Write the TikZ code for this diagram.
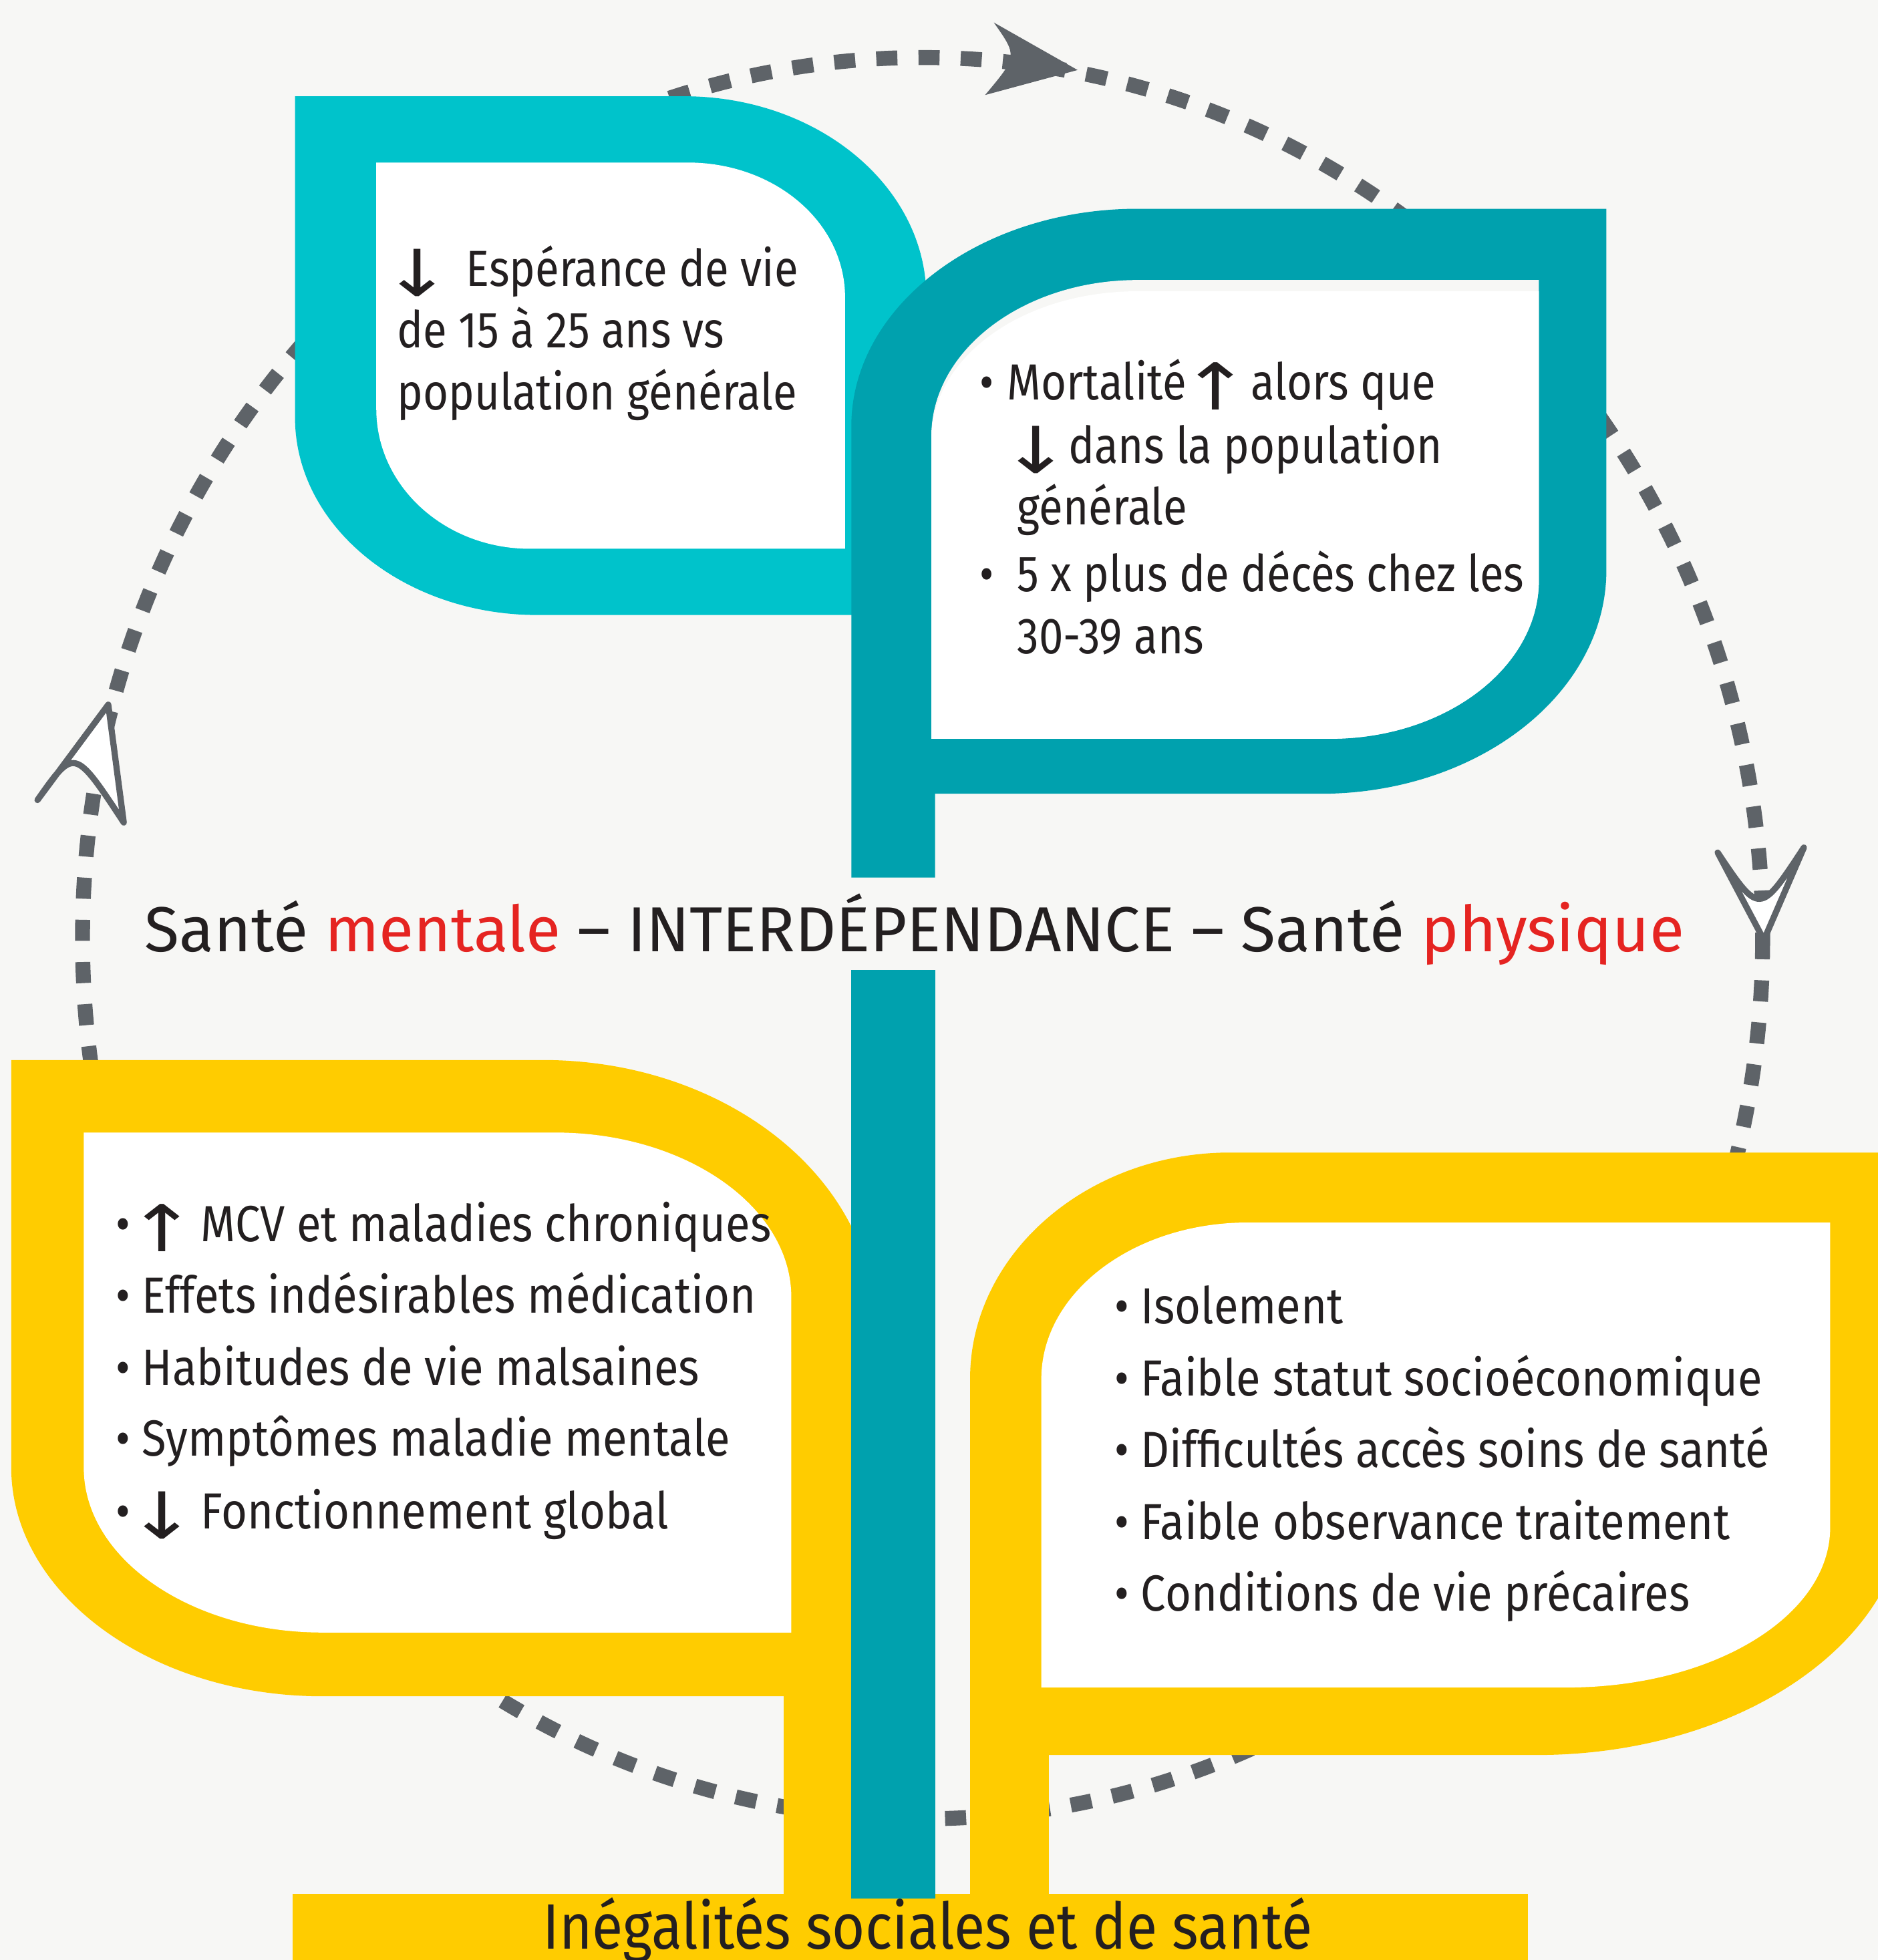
\documentclass[tikz,border=0pt]{standalone}
\usepackage{fontspec}
\setmainfont{Fira Sans}
\newfontfamily\leaffont[FakeStretch=0.86]{Fira Sans}
\newfontfamily\rootfont[FakeStretch=0.88]{Fira Sans}
\newfontfamily\arrowfont{DejaVu Sans}
\usepackage{tikz}
\usetikzlibrary{calc}

\definecolor{bgcol}{HTML}{F7F7F5}
\definecolor{ringcol}{HTML}{5E6368}
\definecolor{cyanleaf}{HTML}{00C3CB}
\definecolor{tealleaf}{HTML}{00A1AE}
\definecolor{yellowleaf}{HTML}{FFCC00}
\definecolor{inkcol}{HTML}{231F20}
\definecolor{redcol}{HTML}{E52421}

\newcommand{\arrup}{\scalebox{1.35}[1.05]{\arrowfont\fontsize{14}{14}\selectfont ↑}}
\newcommand{\arrdown}{\scalebox{1.35}[1.05]{\arrowfont\fontsize{14}{14}\selectfont ↓}}

\tikzset{
  ring/.style={ringcol, line width=3.4pt, dash pattern=on 4.8pt off 4.8pt},
  openhead/.style={draw=ringcol, fill=white, line width=1.4pt, line join=round},
  fullhead/.style={fill=ringcol},
  leaftext/.style={inkcol, anchor=base west, inner sep=0pt, font=\leaffont\fontsize{11.55}{14}\selectfont},
  roottext/.style={inkcol, anchor=base west, inner sep=0pt, font=\rootfont\fontsize{11.55}{14}\selectfont},
  arrowtext/.style={inkcol, anchor=base west, inner sep=0pt},
  titletext/.style={inkcol, anchor=base, inner sep=0pt, font=\fontsize{14.47}{18}\selectfont},
  bartext/.style={inkcol, anchor=base, inner sep=0pt, font=\rootfont\fontsize{14.6}{16}\selectfont},
}

\begin{document}
\begin{tikzpicture}[x=0.01cm, y=-0.01cm]

	\useasboundingbox (0,0) rectangle (1502,1568);
	\fill[bgcol] (0,0) rectangle (1502,1568); %background

	% cycle round the plant
	\draw[ring] (738,750.5) ellipse [x radius=672, y radius=704.5];
	\fill[fullhead] (862,56) -- (795,18) .. controls (814,45) .. (788,76) -- cycle; %top
	\draw[openhead] (1411,752) -- (1374,682) .. controls (1407.5,732) .. (1443,678) -- cycle; %right
	\draw[openhead] (86.6,563.7) -- (30,640) .. controls (59.5,598) .. (99,658) -- cycle; %left

	% yellow leaves
	\fill[yellowleaf] (9,848) -- (434,848) .. controls (581,848) and (700,943) .. (700,1060) -- (700,1515) -- (627,1515) -- (627,1357) -- (258,1357) .. controls (121,1357) and (9,1275) .. (9,1174) -- cycle;
	\fill[white] (67,906) -- (444,906) .. controls (548,906) and (633,965) .. (633,1038) -- (633,1306) -- (258,1306) .. controls (153,1306) and (67,1247) .. (67,1174) -- cycle;
	\fill[yellowleaf] (776,1515) -- (776,1103) .. controls (776,1003) and (870,922) .. (984,922) -- (1525,922) -- (1525,1200) .. controls (1525,1313) and (1392,1404) .. (1229,1404) -- (839,1404) -- (839,1515) -- cycle;
	\fill[white] (833,1350) -- (833,1103) .. controls (833,1034) and (907,978) .. (998,978) -- (1464,978) -- (1464,1222) .. controls (1464,1293) and (1370,1350) .. (1253,1350) -- cycle;
	\fill[yellowleaf] (234,1515) rectangle (1222,1580); %ground

	% teal leaves
	\fill[cyanleaf] (236,77) -- (547,77) .. controls (654,77) and (741,149) .. (741,238) -- (741,492) -- (430,492) .. controls (323,492) and (236,421) .. (236,334) -- cycle;
	\fill[white] (301,130) -- (550,130) .. controls (620,130) and (676,178) .. (676,238) -- (676,439) -- (424,439) .. controls (356,439) and (301,389) .. (301,327) -- cycle;
	\fill[tealleaf] (681,702) -- (681,341) .. controls (681,245) and (784,167) .. (910,167) -- (1285,167) -- (1285,456) .. controls (1285,555) and (1182,635) .. (1056,635) -- (748,635) -- (748,702) -- cycle;
	\fill[bgcol] (745,591) -- (745,349) .. controls (745,280) and (819,224) .. (910,224) -- (1231,224) -- (1231,464) .. controls (1231,534) and (1156,591) .. (1064,591) -- cycle;
	\fill[white] (745,591) -- (745,352) .. controls (745,285) and (819,233) .. (910,233) -- (1231,233) -- (1231,464) .. controls (1231,534) and (1156,591) .. (1064,591) -- cycle;
	\fill[tealleaf] (681,776) rectangle (748,1519); %stem

	% texts
	\node[arrowtext] (espar) at (305,237) {\arrdown};
	\node[leaftext] (esp) at (372,229) {Espérance de vie};
	\node[leaftext] (ans) at (317,278) {de 15 à 25 ans vs};
	\node[leaftext] (pop) at (317,328) {population générale};

	\node[leaftext] (bmort) at (783,320) {•};
	\node[leaftext] (mort) at (805,320) {Mortalité};
	\node[arrowtext] (mortar) at (944,328) {\arrup};
	\node[leaftext] (alors) at (1000,320) {alors que};
	\node[arrowtext] (dansar) at (800,378.6) {\arrdown};
	\node[leaftext] (dans) at (854,370.6) {dans la population};
	\node[leaftext] (gen) at (813,419.6) {générale};
	\node[leaftext] (bdeces) at (783,473) {•};
	\node[leaftext] (deces) at (813,473) {5 x plus de décès chez les};
	\node[leaftext] (age) at (813,523) {30-39 ans};

	\node[titletext] (title) at (731.5,761.5) {Santé {\color{redcol}mentale} – INTERDÉPENDANCE – Santé {\color{redcol}physique}};

	\node[roottext] (bmcv) at (92,993) {•};
	\node[arrowtext] (mcvar) at (101,1001) {\arrup};
	\node[roottext] (mcv) at (160,993) {MCV et maladies chroniques};
	\node[roottext] (eff) at (92,1050.6) {• Effets indésirables médication};
	\node[roottext] (hab) at (92,1108) {• Habitudes de vie malsaines};
	\node[roottext] (sym) at (92,1165) {• Symptômes maladie mentale};
	\node[roottext] (bfon) at (92,1223) {•};
	\node[arrowtext] (fonar) at (101,1231) {\arrdown};
	\node[roottext] (fon) at (160,1223) {Fonctionnement global};

	\node[roottext] (iso) at (891,1058.8) {• Isolement};
	\node[roottext] (fss) at (891,1116.8) {• Faible statut socioéconomique};
	\node[roottext] (dif) at (891,1174) {• Difficultés accès soins de santé};
	\node[roottext] (obs) at (891,1231.7) {• Faible observance traitement};
	\node[roottext] (cond) at (891,1289) {• Conditions de vie précaires};

	\node[bartext] (ineg) at (742,1559) {Inégalités sociales et de santé};

\end{tikzpicture}
\end{document}
